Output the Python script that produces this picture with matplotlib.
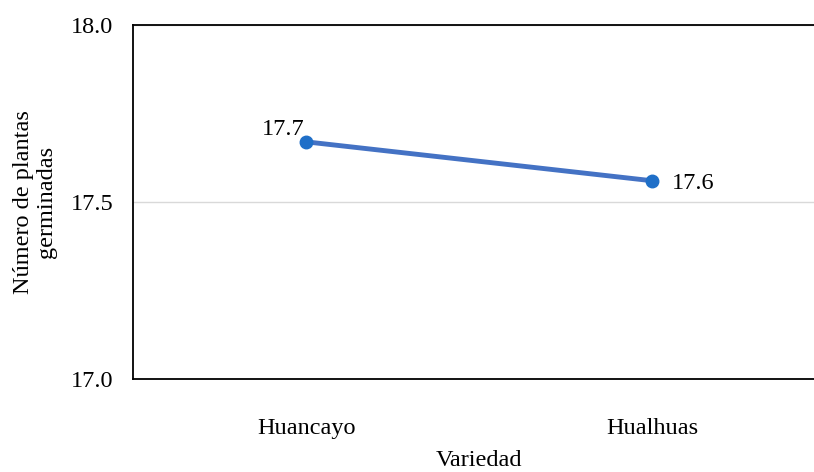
import matplotlib
matplotlib.use("Agg")
import matplotlib.pyplot as plt

variedades = ["Huancayo", "Hualhuas"]
plantas_germinadas = [17.67, 17.56]
y_ticks = [17.0, 17.5, 18.0]

plt.rcParams["font.family"] = ["Liberation Serif", "DejaVu Serif"]
FS = 17.5

fig = plt.figure(figsize=(8.14, 4.72), dpi=100)
ax = fig.add_axes([0.1634, 0.197, 0.8507, 0.750])

x = list(range(len(variedades)))
ax.plot(x, plantas_germinadas, color="#4472c4", linewidth=3.5,
        marker="o", markersize=9, markerfacecolor="#1f6fc8",
        markeredgecolor="#1f6fc8", zorder=3, clip_on=False)

# value labels: first one above-left of the point, second one to the right
ax.annotate(f"{plantas_germinadas[0]:.1f}", (x[0], plantas_germinadas[0]),
            xytext=(-1, 1), textcoords="offset points",
            ha="right", va="bottom", fontsize=FS)
ax.annotate(f"{plantas_germinadas[1]:.1f}", (x[1], plantas_germinadas[1]),
            xytext=(14, -2), textcoords="offset points",
            ha="left", va="center", fontsize=FS)

ax.set_xlim(-0.5, 1.5)
ax.set_ylim(17.0, 18.0)
ax.set_xticks(x)
ax.set_xticklabels(variedades, fontsize=FS)
ax.set_yticks(y_ticks)
ax.set_yticklabels([f"{v:.1f}" for v in y_ticks], fontsize=FS)
ax.tick_params(axis="both", length=0)
ax.tick_params(axis="x", pad=28)
ax.tick_params(axis="y", pad=14)

ax.grid(axis="y", color="#d9d9d9", linewidth=1)
ax.set_axisbelow(True)

for side in ["left", "top", "bottom"]:
    ax.spines[side].set_color("black")
    ax.spines[side].set_linewidth(1.3)
ax.spines["right"].set_visible(False)

ax.set_xlabel("Variedad", fontsize=FS, labelpad=8)
ax.set_ylabel("Número de plantas\ngerminadas", fontsize=FS, labelpad=10,
              linespacing=1.15)

fig.savefig("out.png", dpi=100)
